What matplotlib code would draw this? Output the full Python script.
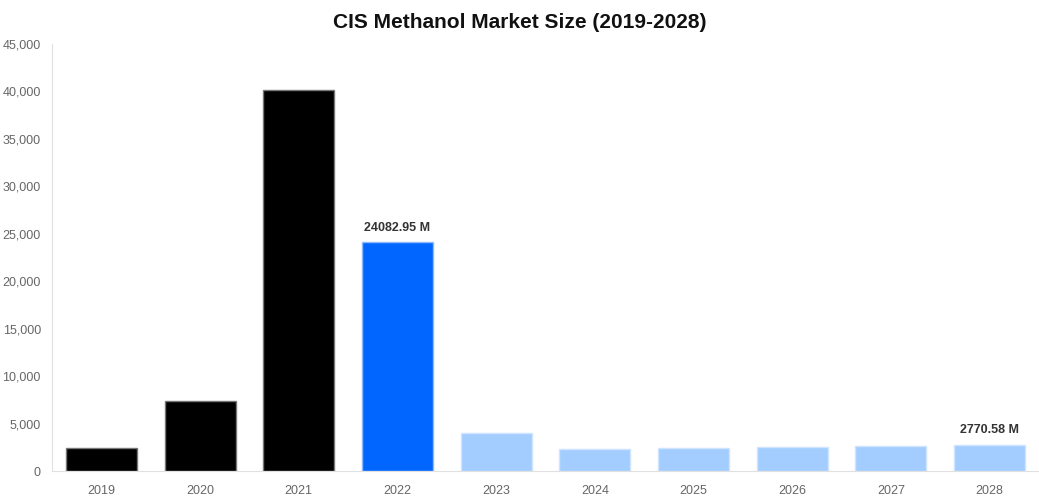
import matplotlib
matplotlib.use("Agg")
import matplotlib.pyplot as plt
from matplotlib.ticker import FuncFormatter

plt.rcParams['font.family'] = ['Liberation Sans', 'DejaVu Sans']

years = ['2019', '2020', '2021', '2022', '2023', '2024', '2025', '2026', '2027', '2028']
values = [2390, 7380, 40180, 24082.95, 4000, 2350, 2420, 2530, 2640, 2770.58]
colors = ['#000000'] * 3 + ['#0066ff'] + ['#a3cdff'] * 6
edges = ['#777777'] * 3 + ['#8fb8ff'] + ['#cfe4ff'] * 6
labelled = {3: '24082.95 M', 9: '2770.58 M'}

fig = plt.figure(figsize=(10.39, 5.0), dpi=100)
ax = fig.add_axes([52 / 1039, 29 / 500, 987 / 1039, 427 / 500])

x = list(range(len(years)))
ax.bar(x, values, width=0.72, color=colors, edgecolor=edges, linewidth=1)

for i, txt in labelled.items():
    ax.annotate(txt, (i, values[i]), xytext=(0, 6), textcoords='offset points',
                ha='center', va='bottom', fontsize=9, fontweight='bold', color='#333333')

ax.set_xlim(-0.5, 9.5)
ax.set_ylim(0, 45000)
ax.set_yticks(range(0, 45001, 5000))
ax.yaxis.set_major_formatter(FuncFormatter(lambda v, p: f'{int(v):,}'))
ax.set_xticks(x)
ax.set_xticklabels(years)
ax.tick_params(axis='both', length=0, labelsize=9, colors='#666666')
ax.tick_params(axis='x', pad=10)
ax.tick_params(axis='y', pad=8)

for s in ['top', 'right']:
    ax.spines[s].set_visible(False)
ax.spines['left'].set_color('#e0e0e0')
ax.spines['bottom'].set_color('#e0e0e0')

fig.suptitle('CIS Methanol Market Size (2019-2028)', x=0.5, y=0.975, fontsize=15,
             fontweight='bold', color='#111111')

fig.savefig('out.png', dpi=100)
